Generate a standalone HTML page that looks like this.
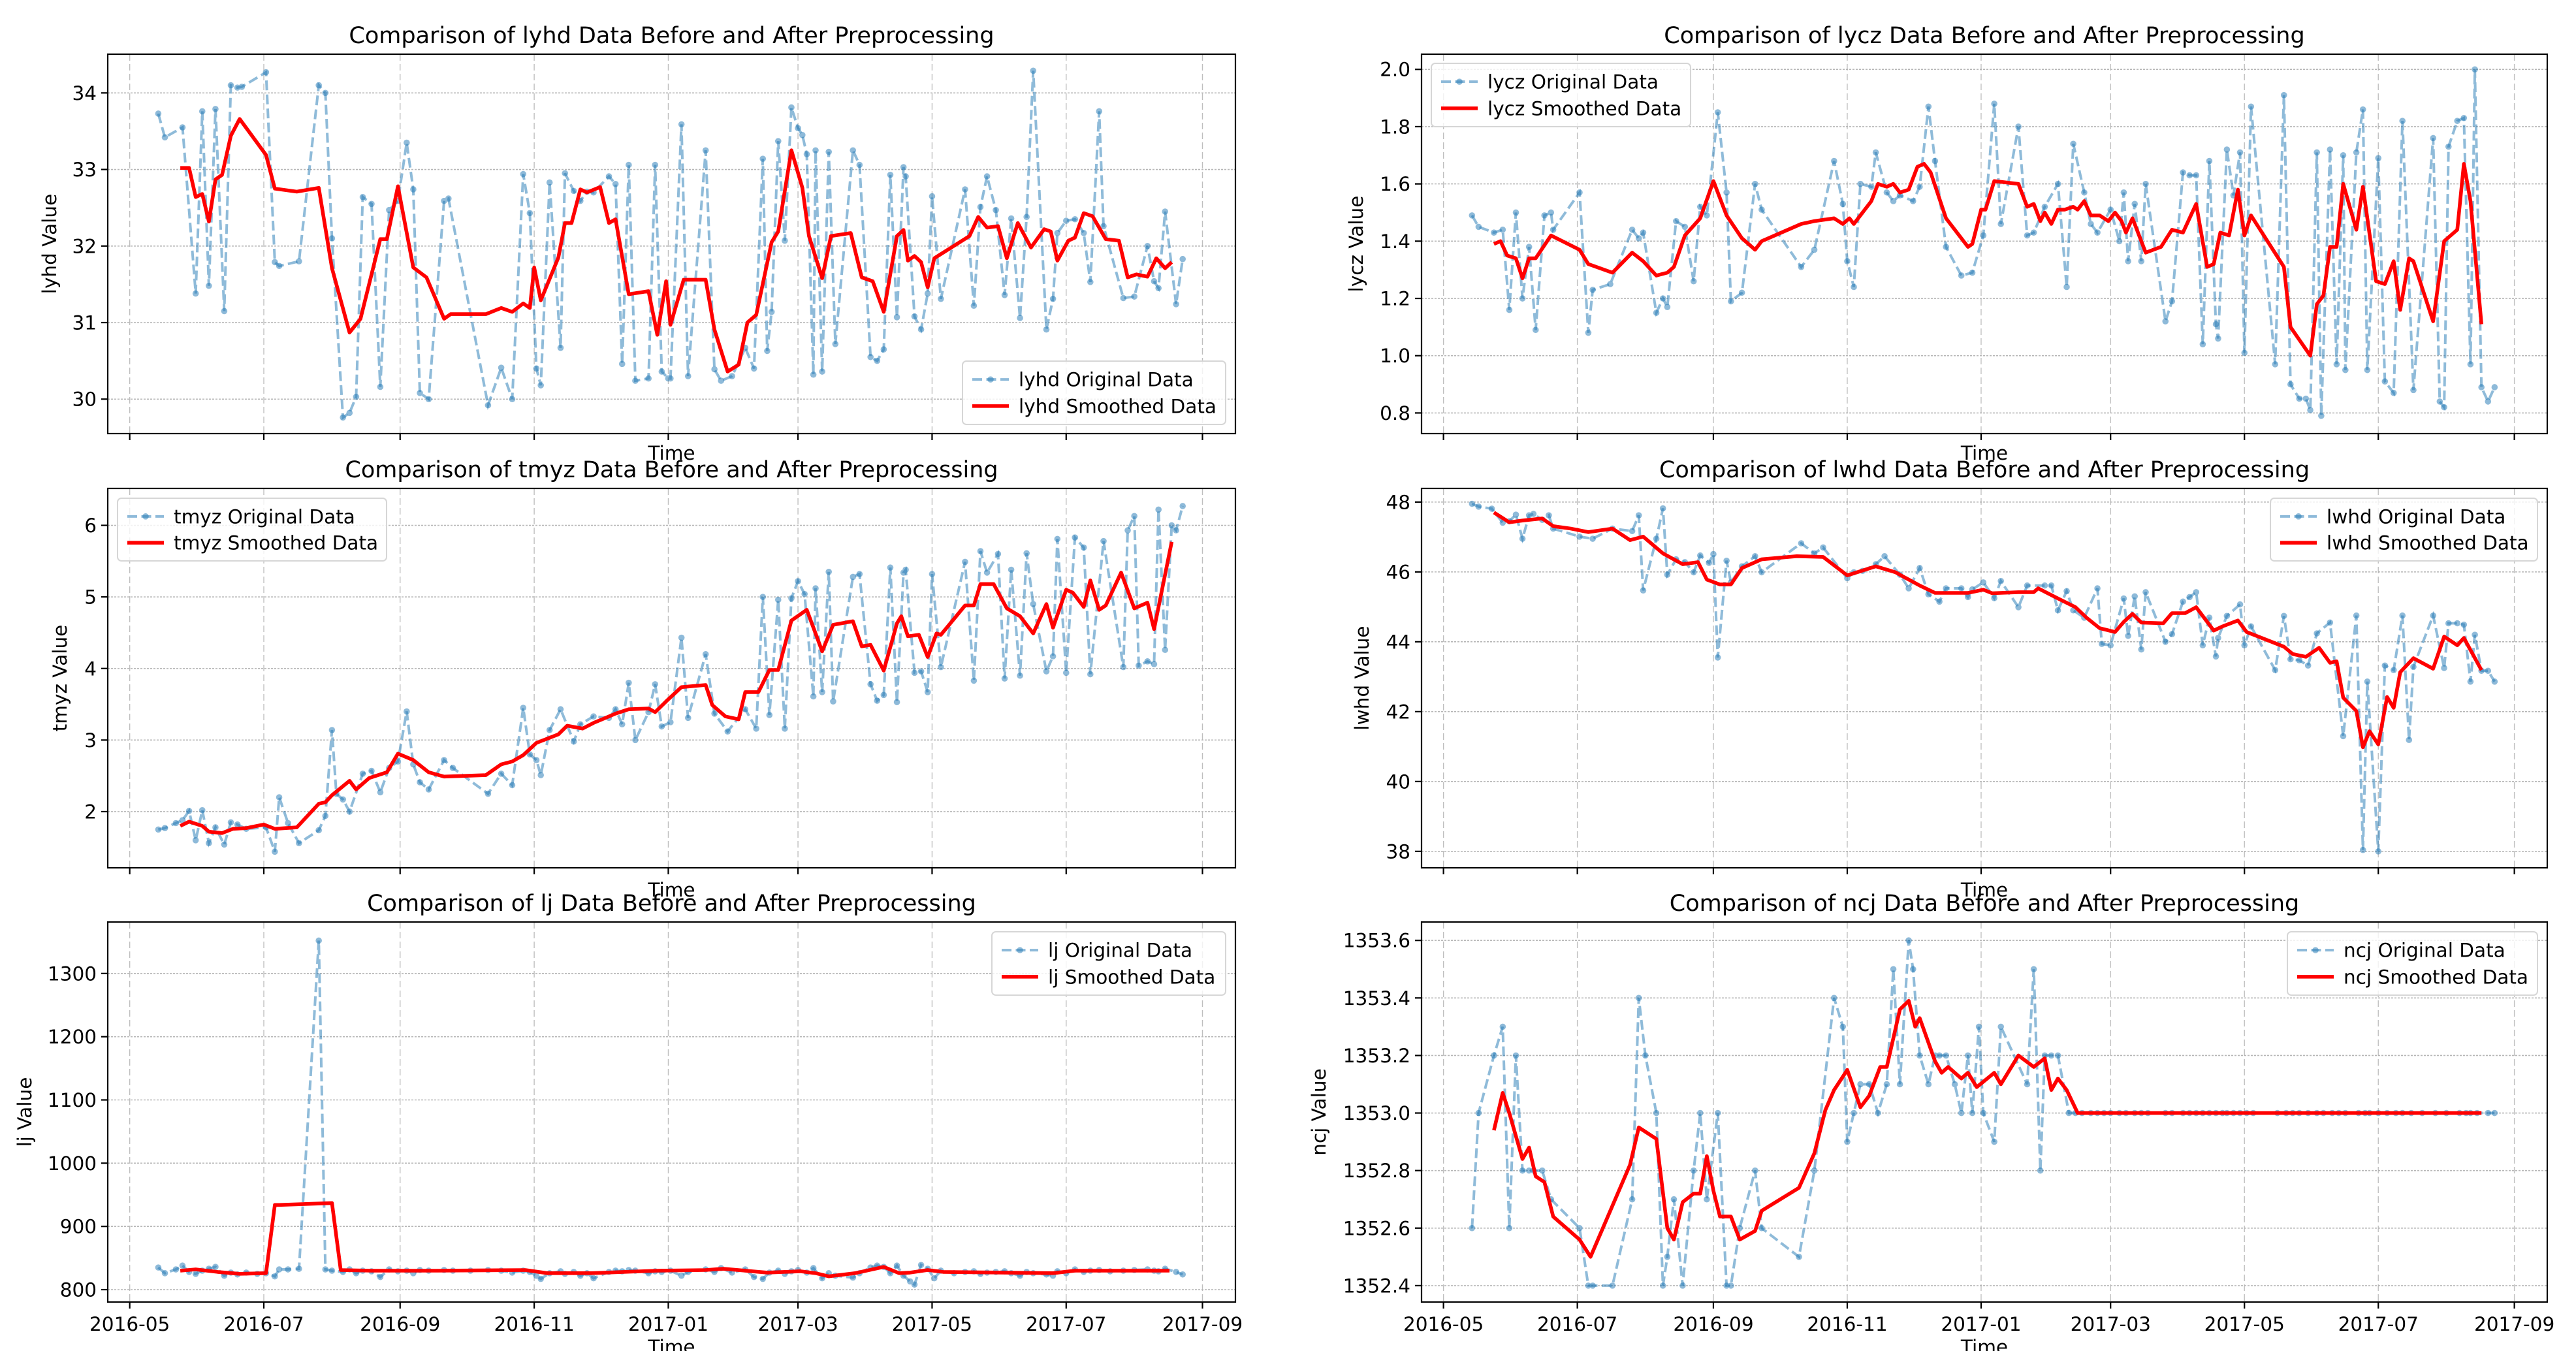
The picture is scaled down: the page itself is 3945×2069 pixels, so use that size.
<!DOCTYPE html>
<html><head><meta charset="utf-8"><style>
html,body{margin:0;padding:0;background:#fff}
svg{display:block}
text{font-family:"DejaVu Sans","Liberation Sans",sans-serif;fill:#000}
</style></head><body>
<svg id="fig" width="3945" height="2069" viewBox="0 0 3945 2069" xmlns="http://www.w3.org/2000/svg"></svg>
<script>
// ---------- shared x ticks ----------
const xTickDays = [0,61,123,184,245,304,365,426,488];
const xTickLabels = ["2016-05","2016-07","2016-09","2016-11","2017-01","2017-03","2017-05","2017-07","2017-09"];

// ---------- lyhd ----------
const lyhdDays = [13,16,24,30,33,36,39,43,46,49,51,62,66,68,77,86,89,92,97,100,103,106,110,114,118,122,126,129,132,136,143,145,163,169,174,179,182,185,187,191,196,198,202,205,208,211,218,221,224,227,230,236,239,242,245,246,251,254,262,266,269,274,280,284,288,290,292,295,298,301,304,306,308,311,312,315,318,321,329,332,337,340,343,346,349,352,353,357,360,363,365,369,380,384,387,390,394,398,401,405,408,411,417,420,422,426,430,434,437,441,443,452,457,463,466,468,471,476,479];
const lyhdOrig = [33.73,33.42,33.55,31.38,33.76,31.48,33.79,31.15,34.1,34.07,34.08,34.27,31.79,31.74,31.8,34.1,34.0,32.1,29.76,29.82,30.03,32.64,32.55,30.16,32.47,32.59,33.35,32.74,30.08,30.0,32.59,32.62,29.92,30.41,30.0,32.94,32.43,30.4,30.18,32.83,30.67,32.95,32.72,32.59,32.71,32.7,32.91,32.81,30.46,33.06,30.24,30.27,33.06,30.36,30.27,30.27,33.59,30.3,33.25,30.39,30.24,30.3,30.67,30.4,33.14,30.63,31.14,33.37,32.07,33.81,33.54,33.45,33.2,30.32,33.25,30.36,33.23,30.72,33.25,33.06,30.55,30.5,30.65,32.93,31.07,33.03,32.91,31.08,30.91,31.38,32.65,31.31,32.74,31.22,32.51,32.91,32.47,31.36,32.36,31.06,32.38,34.29,30.91,31.31,32.17,32.33,32.35,32.17,31.53,33.76,32.26,31.32,31.34,32.0,31.54,31.45,32.45,31.24,31.83];
const lyhdSmDays = [23,27,30,33,36,39,42,46,50,62,66,76,86,92,100,105,114,117,122,129,135,143,146,162,169,174,179,182,184,187,195,198,201,205,208,214,218,221,227,236,240,244,246,252,262,266,272,277,281,285,292,295,301,306,309,315,319,328,333,338,343,349,352,354,357,360,363,366,382,386,390,395,399,404,410,416,419,422,427,430,434,438,444,450,454,458,463,467,471,474];
const lyhdSm = [33.02,33.02,32.64,32.68,32.32,32.87,32.93,33.44,33.66,33.19,32.75,32.71,32.76,31.71,30.87,31.05,32.09,32.09,32.78,31.72,31.59,31.05,31.11,31.11,31.19,31.14,31.25,31.19,31.72,31.29,31.85,32.3,32.3,32.74,32.7,32.77,32.3,32.35,31.37,31.41,30.84,31.54,30.97,31.56,31.56,30.91,30.36,30.45,31.0,31.1,32.05,32.19,33.25,32.76,32.13,31.58,32.13,32.17,31.59,31.54,31.14,32.13,32.21,31.81,31.87,31.79,31.46,31.84,32.13,32.38,32.24,32.26,31.84,32.3,31.98,32.22,32.19,31.81,32.07,32.11,32.43,32.39,32.09,32.07,31.59,31.63,31.6,31.84,31.71,31.79];
const lyhdTicks = [30,31,32,33,34];

// ---------- lycz ----------
const lyczDays = [13,16,23,27,30,33,36,39,42,46,49,50,62,66,68,76,86,89,91,97,100,102,106,110,114,117,120,125,129,131,136,142,145,163,169,178,182,184,187,190,195,197,202,205,208,214,217,221,224,229,236,241,246,251,254,262,266,269,274,280,284,287,292,295,298,304,308,310,312,315,318,320,329,332,337,340,343,346,349,352,353,357,360,363,365,368,379,383,386,390,393,395,398,400,404,407,410,411,416,419,421,426,429,433,437,442,451,454,456,458,462,465,468,470,473,476,479];
const lyczOrig = [1.49,1.45,1.43,1.44,1.16,1.5,1.2,1.38,1.09,1.49,1.5,1.44,1.57,1.08,1.23,1.25,1.44,1.41,1.43,1.15,1.2,1.17,1.47,1.45,1.26,1.52,1.49,1.85,1.57,1.19,1.22,1.6,1.51,1.31,1.37,1.68,1.53,1.33,1.24,1.6,1.59,1.71,1.57,1.54,1.56,1.54,1.59,1.87,1.68,1.38,1.28,1.29,1.42,1.88,1.46,1.8,1.42,1.43,1.52,1.6,1.24,1.74,1.57,1.46,1.43,1.51,1.4,1.57,1.33,1.53,1.33,1.6,1.12,1.19,1.64,1.63,1.63,1.04,1.68,1.11,1.06,1.72,1.56,1.71,1.01,1.87,0.97,1.91,0.9,0.85,0.85,0.81,1.71,0.79,1.72,0.97,1.7,0.95,1.71,1.86,0.95,1.69,0.91,0.87,1.82,0.88,1.76,0.84,0.82,1.73,1.82,1.83,0.97,2.0,0.89,0.84,0.89];
const lyczSmDays = [23,26,29,33,36,39,42,49,62,66,77,86,91,97,102,105,110,117,123,129,136,142,145,163,169,178,182,185,187,195,198,202,205,208,212,216,219,222,229,239,241,245,247,251,262,266,269,272,274,277,280,283,287,289,292,295,299,303,306,309,311,314,320,327,332,337,343,348,351,354,358,362,365,368,383,386,395,398,401,404,407,410,416,419,425,429,433,436,440,442,451,456,462,465,468,473];
const lyczSm = [1.39,1.4,1.35,1.34,1.27,1.34,1.34,1.42,1.37,1.32,1.29,1.36,1.33,1.28,1.29,1.31,1.42,1.48,1.61,1.49,1.41,1.37,1.4,1.46,1.47,1.48,1.46,1.48,1.46,1.54,1.6,1.59,1.6,1.57,1.58,1.66,1.67,1.64,1.48,1.38,1.39,1.51,1.51,1.61,1.6,1.52,1.53,1.47,1.5,1.46,1.51,1.51,1.52,1.51,1.54,1.49,1.49,1.47,1.5,1.47,1.43,1.48,1.36,1.38,1.44,1.43,1.53,1.31,1.32,1.43,1.42,1.58,1.42,1.49,1.31,1.1,1.0,1.18,1.21,1.38,1.38,1.6,1.44,1.59,1.26,1.25,1.33,1.16,1.34,1.33,1.12,1.4,1.44,1.67,1.54,1.11];
const lyczTicks = [0.8,1.0,1.2,1.4,1.6,1.8,2.0];

// ---------- tmyz ----------
const tmyzDays = [13,16,21,24,27,30,33,36,39,43,46,49,53,62,66,68,72,77,86,89,92,94,97,100,106,110,114,118,122,126,129,132,136,143,147,163,169,174,179,182,185,187,191,196,202,205,211,218,221,224,227,230,236,239,242,246,251,254,262,266,272,280,285,288,291,295,298,301,304,307,311,312,315,318,320,329,332,337,340,343,346,349,352,353,357,360,363,365,369,380,384,387,390,395,398,401,405,408,411,417,420,422,426,430,434,437,443,452,454,457,459,463,466,468,471,474,476,479];
const tmyzOrig = [1.75,1.77,1.84,1.88,2.01,1.6,2.02,1.56,1.78,1.54,1.85,1.82,1.76,1.78,1.44,2.2,1.84,1.56,1.74,1.94,3.14,2.25,2.17,2.0,2.53,2.57,2.27,2.61,2.7,3.4,2.66,2.41,2.31,2.72,2.61,2.25,2.53,2.37,3.45,2.8,2.72,2.51,3.14,3.43,2.98,3.22,3.33,3.31,3.43,3.22,3.8,3.0,3.39,3.78,3.19,3.25,4.43,3.31,4.2,3.37,3.12,3.43,3.16,5.0,3.35,4.96,3.16,4.98,5.22,5.04,3.61,5.12,3.67,5.35,3.54,5.28,5.32,3.78,3.55,3.63,5.41,3.53,5.34,5.38,3.94,3.96,3.67,5.32,4.02,5.49,3.83,5.64,5.34,5.6,3.86,5.38,3.9,5.61,4.9,3.96,4.17,5.81,3.94,5.83,5.69,3.92,5.78,4.02,5.93,6.13,4.04,4.1,4.06,6.22,4.26,6.0,5.93,6.27];
const tmyzSmDays = [23,27,33,36,42,47,53,61,66,76,86,89,92,100,103,109,117,122,129,136,143,162,169,174,179,185,195,199,206,211,218,221,227,236,239,245,251,262,265,271,277,280,286,291,295,301,308,312,315,320,329,333,337,343,349,351,354,359,363,367,369,380,384,387,393,399,405,411,417,420,426,429,434,437,441,444,451,457,463,466,474];
const tmyzSm = [1.8,1.86,1.8,1.72,1.7,1.76,1.77,1.82,1.76,1.78,2.11,2.13,2.23,2.43,2.31,2.47,2.55,2.81,2.72,2.55,2.49,2.51,2.66,2.7,2.79,2.96,3.08,3.2,3.16,3.24,3.33,3.37,3.43,3.44,3.39,3.57,3.74,3.77,3.49,3.33,3.29,3.67,3.67,3.98,3.98,4.67,4.82,4.49,4.24,4.61,4.66,4.31,4.33,3.97,4.63,4.73,4.45,4.47,4.16,4.49,4.47,4.88,4.88,5.18,5.18,4.84,4.73,4.49,4.9,4.57,5.1,5.06,4.86,5.23,4.82,4.88,5.34,4.84,4.92,4.55,5.77];
const tmyzTicks = [2,3,4,5,6];

// ---------- lwhd ----------
const lwhdDays = [13,16,22,27,30,33,36,39,41,45,48,50,62,68,77,86,89,91,97,100,102,106,110,114,117,121,123,125,129,131,136,142,145,163,169,173,184,187,191,197,201,208,212,217,221,226,229,236,239,241,246,251,254,262,266,274,277,280,284,287,292,298,300,304,310,312,315,318,320,329,332,337,340,343,346,349,352,353,357,363,365,368,379,383,386,390,394,398,404,410,416,419,421,426,429,433,437,440,442,451,456,458,462,465,468,470,473,476,479];
const lwhdOrig = [47.95,47.87,47.81,47.41,47.45,47.64,46.95,47.62,47.66,47.49,47.62,47.24,47.01,46.95,47.24,47.17,47.62,45.47,46.95,47.82,45.92,46.36,46.28,45.99,46.47,46.26,46.51,43.55,46.32,45.7,46.16,46.45,45.99,46.82,46.53,46.7,45.82,45.99,46.03,46.22,46.45,45.92,45.53,46.11,45.36,45.15,45.53,45.53,45.28,45.5,45.7,45.25,45.74,44.99,45.61,45.61,45.61,44.9,45.45,44.9,44.69,45.53,43.94,43.9,45.24,44.17,45.3,43.78,45.42,44.0,44.22,45.15,45.28,45.42,43.9,44.69,43.58,44.11,44.74,45.07,43.9,44.44,43.19,44.74,43.5,43.47,43.32,44.24,44.55,41.3,44.75,38.04,42.86,38.0,43.32,43.19,44.75,41.19,43.28,44.75,43.25,44.53,44.53,44.49,42.86,44.2,43.17,43.17,42.86];
const lwhdSmDays = [23,30,36,45,50,58,66,77,85,91,100,109,116,120,126,131,136,145,161,173,184,197,206,210,217,224,239,246,250,262,269,271,280,288,293,299,306,310,314,318,328,332,338,343,351,355,362,366,383,387,393,399,404,407,410,416,419,422,426,430,433,436,442,451,456,462,465,473];
const lwhdSm = [47.7,47.42,47.47,47.53,47.31,47.24,47.14,47.24,46.91,47.01,46.53,46.22,46.28,45.78,45.64,45.64,46.11,46.36,46.45,46.43,45.9,46.16,45.99,45.85,45.61,45.4,45.4,45.49,45.39,45.42,45.42,45.53,45.24,44.99,44.69,44.39,44.28,44.57,44.8,44.55,44.53,44.82,44.82,44.99,44.32,44.44,44.61,44.28,43.86,43.65,43.57,43.83,43.4,43.44,42.4,42.02,40.98,41.44,41.06,42.42,42.11,43.13,43.53,43.23,44.15,43.9,44.11,43.19];
const lwhdTicks = [38,40,42,44,46,48];

// ---------- lj ----------
const ljDays = [13,16,21,24,27,30,33,36,39,43,46,49,53,58,62,66,68,72,77,86,89,92,97,100,103,106,110,114,118,122,126,129,132,136,143,147,155,163,169,174,179,182,185,187,191,196,198,202,205,208,211,218,221,224,227,230,236,239,242,246,251,254,262,266,269,274,280,284,288,291,295,298,301,304,308,311,315,318,321,329,332,337,340,343,346,349,352,355,357,360,363,366,369,375,380,384,387,390,394,398,401,405,408,411,417,420,422,426,430,434,437,441,446,452,457,463,466,468,471,476,479];
const ljOrig = [835,826,832,838,828,825,830,833,836,822,827,824,827,825,826,821,832,832,833,1352,832,830,828,832,826,830,829,820,832,829,830,826,831,830,831,830,830,831,830,827,830,828,822,817,826,829,825,828,822,826,818,828,830,829,831,830,826,829,828,830,822,828,832,828,834,827,832,820,817,827,830,825,829,831,827,834,818,826,822,819,826,835,838,836,826,838,822,813,808,839,833,818,830,826,828,829,825,827,828,829,826,822,828,826,824,822,829,826,832,828,830,831,829,830,831,832,830,829,833,828,824];
const ljSmDays = [23,30,40,50,62,66,68,92,96,110,140,180,190,210,240,262,270,290,305,312,318,330,343,350,355,363,370,420,430,473];
const ljSm = [830,832,828,825,826,934,934,937,831,830,830,831,826,826,830,831,833,827,829,826,821,826,836,826,827,831,828,826,830,830];
const ljTicks = [800,900,1000,1100,1200,1300];

// ---------- ncj ----------
const ncjDays = [13,16,23,27,30,33,36,39,41,45,49,62,66,68,77,86,89,92,97,100,102,105,109,114,117,120,125,129,131,135,142,145,162,169,178,182,184,187,190,194,198,202,205,208,212,214,217,221,224,226,229,233,236,239,241,244,246,251,254,266,269,272,274,277,280,285,288,291,295,298,301,304,308,311,315,318,321,329,332,337,340,343,346,349,352,355,357,360,363,366,369,380,384,387,390,394,398,401,405,408,411,417,420,422,426,430,434,437,441,446,452,457,463,466,468,471,476,479];
const ncjOrig = [1352.6,1353.0,1353.2,1353.3,1352.6,1353.2,1352.8,1352.8,1352.8,1352.8,1352.7,1352.6,1352.4,1352.4,1352.4,1352.7,1353.4,1353.2,1353.0,1352.4,1352.5,1352.7,1352.4,1352.8,1353.0,1352.7,1353.0,1352.4,1352.4,1352.6,1352.8,1352.6,1352.5,1352.8,1353.4,1353.3,1352.9,1353.0,1353.1,1353.1,1353.0,1353.1,1353.5,1353.1,1353.6,1353.5,1353.2,1353.1,1353.2,1353.2,1353.2,1353.1,1353.0,1353.2,1353.0,1353.3,1353.0,1352.9,1353.3,1353.1,1353.5,1352.8,1353.2,1353.2,1353.2,1353.0,1353.0,1353.0,1353.0,1353.0,1353.0,1353.0,1353.0,1353.0,1353.0,1353.0,1353.0,1353.0,1353.0,1353.0,1353.0,1353.0,1353.0,1353.0,1353.0,1353.0,1353.0,1353.0,1353.0,1353.0,1353.0,1353.0,1353.0,1353.0,1353.0,1353.0,1353.0,1353.0,1353.0,1353.0,1353.0,1353.0,1353.0,1353.0,1353.0,1353.0,1353.0,1353.0,1353.0,1353.0,1353.0,1353.0,1353.0,1353.0,1353.0,1353.0,1353.0,1353.0];
const ncjSmDays = [23,27,30,36,39,42,46,50,62,67,85,89,91,97,102,105,109,114,117,120,123,126,131,135,142,145,162,169,174,178,184,190,194,199,202,208,212,215,217,224,227,230,236,239,243,251,254,262,269,274,277,280,284,289,473];
const ncjSm = [1352.94,1353.07,1353.0,1352.84,1352.88,1352.78,1352.76,1352.64,1352.56,1352.5,1352.82,1352.95,1352.94,1352.91,1352.6,1352.56,1352.69,1352.72,1352.72,1352.85,1352.73,1352.64,1352.64,1352.56,1352.59,1352.66,1352.74,1352.86,1353.01,1353.08,1353.15,1353.02,1353.06,1353.16,1353.16,1353.36,1353.39,1353.3,1353.33,1353.18,1353.14,1353.16,1353.12,1353.14,1353.09,1353.14,1353.1,1353.2,1353.16,1353.19,1353.08,1353.12,1353.08,1353.0,1353.0];
const ncjTicks = [1352.4,1352.6,1352.8,1353.0,1353.2,1353.4,1353.6];

// ---------- rendering ----------
const NS = "http://www.w3.org/2000/svg";
const svg = document.getElementById('fig');
function mk(tag, attrs, parent){
  const e = document.createElementNS(NS, tag);
  for (const k in attrs) e.setAttribute(k, attrs[k]);
  (parent||svg).appendChild(e);
  return e;
}
const BLUE = "#1f77b4", RED = "#ff0000";
const FS = 29.5, TFS = 35;

function panel(cfg){
  const g = mk('g', {});
  
  
  const L=cfg.L, R=cfg.R, T=cfg.T, B=cfg.B;
  const xs = d => L + (d - (-10)) / (503 - (-10)) * (R - L);
  const ys = v => T + (cfg.ymax - v) / (cfg.ymax - cfg.ymin) * (B - T);
  const grid = mk('g', {}, g);
  
  
  xTickDays.forEach(d => {
    const x = xs(d);
    mk('line', {x1:x, x2:x, y1:T, y2:B, stroke:"#b0b0b0", 'stroke-width':1.4, 'stroke-dasharray':"10 5", opacity:0.8}, grid);
  });
  cfg.ticks.forEach(v => {
    const y = ys(v);
    mk('line', {x1:L, x2:R, y1:y, y2:y, stroke:"#b0b0b0", 'stroke-width':1.6, 'stroke-dasharray':"3 2", opacity:0.9}, grid);
  });
  const pts = cfg.days.map((d,i) => xs(d).toFixed(1) + ',' + ys(cfg.orig[i]).toFixed(1)).join(' ');
  const ol = mk('polyline', {points:pts, fill:"none", stroke:BLUE, 'stroke-width':4, 'stroke-dasharray':"15 6.5", opacity:0.5}, g);
  
  
  const mg = mk('g', {fill:BLUE, opacity:0.5}, g);
  
  
  cfg.days.forEach((d,i) => {
    const c = mk('circle', {cx:xs(d), cy:ys(cfg.orig[i]), r:4.8}, mg);
    
    
  });
  const sp = cfg.smDays.map((d,i) => xs(d).toFixed(1) + ',' + ys(cfg.sm[i]).toFixed(1)).join(' ');
  const sl = mk('polyline', {points:sp, fill:"none", stroke:RED, 'stroke-width':5.6, 'stroke-linejoin':"round"}, g);
  
  
  const fr = mk('rect', {x:L, y:T, width:R-L, height:B-T, fill:"none", stroke:"#000", 'stroke-width':2.2}, g);
  
  
  cfg.ticks.forEach((v,i) => {
    const y = ys(v);
    mk('line', {x1:L-10, x2:L, y1:y, y2:y, stroke:"#000", 'stroke-width':2.2}, g);
    const t = mk('text', {x:L-17, y:y+10.5, 'font-size':cfg.fs, 'text-anchor':"end"}, g);
    t.textContent = cfg.tickLabels[i];
    
    
  });
  xTickDays.forEach((d,i) => {
    const x = xs(d);
    mk('line', {x1:x, x2:x, y1:B, y2:B+10, stroke:"#000", 'stroke-width':2.2}, g);
    if (cfg.showX){
      const t = mk('text', {x:x, y:B+44, 'font-size':FS, 'text-anchor':"middle"}, g);
      t.textContent = xTickLabels[i];
      
      
    }
  });
  const ti = mk('text', {x:(L+R)/2, y:T-17, 'font-size':TFS, 'text-anchor':"middle"}, g);
  ti.textContent = "Comparison of " + cfg.key + " Data Before and After Preprocessing";
  
  
  const xl = mk('text', {x:(L+R)/2, y:cfg.xlabY, 'font-size':FS, 'text-anchor':"middle"}, g);
  xl.textContent = "Time";
  
  
  const yl = mk('text', {x:0, y:0, 'font-size':FS, 'text-anchor':"middle", transform:`translate(${cfg.ylabX},${(T+B)/2}) rotate(-90)`}, g);
  yl.textContent = cfg.key + " Value";
  
  
  const lg = mk('g', {}, g);
  
  
  const [lx, ly, lw, lh] = cfg.leg;
  mk('rect', {x:lx, y:ly, width:lw, height:lh, rx:6, fill:"#fff", 'fill-opacity':0.8, stroke:"#d6d6d6", 'stroke-width':2}, lg);
  const r1 = ly + lh*0.29, r2 = ly + lh*0.71;
  mk('line', {x1:lx+15, x2:lx+71, y1:r1, y2:r1, stroke:BLUE, 'stroke-width':4, 'stroke-dasharray':"15 6.5", opacity:0.5}, lg);
  mk('circle', {cx:lx+43, cy:r1, r:4.8, fill:BLUE, opacity:0.5}, lg);
  mk('line', {x1:lx+15, x2:lx+71, y1:r2, y2:r2, stroke:RED, 'stroke-width':5.6}, lg);
  const e1 = mk('text', {x:lx+86, y:r1+10.5, 'font-size':FS}, lg);
  e1.textContent = cfg.key + " Original Data";
  
  
  const e2 = mk('text', {x:lx+86, y:r2+10.5, 'font-size':FS}, lg);
  e2.textContent = cfg.key + " Smoothed Data";
  
  
}

const fmt1 = v => v.toFixed(1);
const fmt0 = v => String(v);
const LL=165, LR=1892, RL=2177, RR=3901;
panel({key:"lyhd", fs:FS, L:LL, R:LR, T:83, B:664, ymin:29.55, ymax:34.506, days:lyhdDays, orig:lyhdOrig, smDays:lyhdSmDays, sm:lyhdSm, ticks:lyhdTicks, tickLabels:lyhdTicks.map(fmt0), showX:false, xlabY:704, ylabX:86, leg:[1474,553,403,97]});
panel({key:"lycz", fs:FS, L:RL, R:RR, T:83, B:664, ymin:0.728, ymax:2.053, days:lyczDays, orig:lyczOrig, smDays:lyczSmDays, sm:lyczSm, ticks:lyczTicks, tickLabels:lyczTicks.map(fmt1), showX:false, xlabY:704, ylabX:2087, leg:[2192,97,397,97]});
panel({key:"tmyz", fs:FS, L:LL, R:LR, T:748, B:1329, ymin:1.215, ymax:6.516, days:tmyzDays, orig:tmyzOrig, smDays:tmyzSmDays, sm:tmyzSm, ticks:tmyzTicks, tickLabels:tmyzTicks.map(fmt0), showX:false, xlabY:1373, ylabX:102, leg:[180,763,412,96]});
panel({key:"lwhd", fs:FS, L:RL, R:RR, T:748, B:1329, ymin:37.53, ymax:48.39, days:lwhdDays, orig:lwhdOrig, smDays:lwhdSmDays, sm:lwhdSm, ticks:lwhdTicks, tickLabels:lwhdTicks.map(fmt0), showX:false, xlabY:1373, ylabX:2096, leg:[3477,763,409,96]});
panel({key:"lj", fs:FS, L:LL, R:LR, T:1412, B:1994, ymin:780.4, ymax:1381.4, days:ljDays, orig:ljOrig, smDays:ljSmDays, sm:ljSm, ticks:ljTicks, tickLabels:ljTicks.map(fmt0), showX:true, xlabY:2073, ylabX:48, leg:[1519,1427,358,97]});
panel({key:"ncj", fs:FS, L:RL, R:RR, T:1412, B:1994, ymin:1352.343, ymax:1353.664, days:ncjDays, orig:ncjOrig, smDays:ncjSmDays, sm:ncjSm, ticks:ncjTicks, tickLabels:ncjTicks.map(fmt1), showX:true, xlabY:2073, ylabX:2030, leg:[3503,1427,383,97]});
</script>
</body></html>
